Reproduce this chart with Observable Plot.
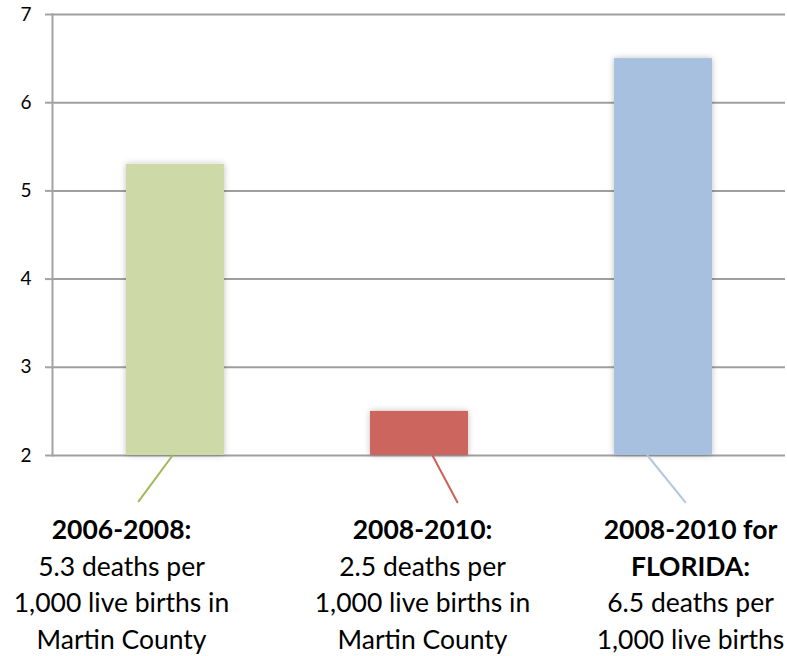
<!DOCTYPE html>
<html><head><meta charset="utf-8">
<script src="https://cdn.jsdelivr.net/npm/d3@7"></script>
<script src="https://cdn.jsdelivr.net/npm/@observablehq/plot@0.6"></script>
<style>body{margin:0;background:#fff}</style>
</head><body><div id="chart"></div>
<script>
const categories = ["2006-2008 Martin County", "2008-2010 Martin County", "2008-2010 Florida"];
const values = [5.3, 2.5, 6.5];
const barColors = ["#cddaa8", "#cd655e", "#a7c0df"];
const leaderColors = ["#9bbb59", "#cf5f59", "#b4c7dc"];
const headers = [["2006-2008:"], ["2008-2010:"], ["2008-2010 for", "FLORIDA:"]];
const bodies = [
  ["5.3 deaths per", "1,000 live births in", "Martin County"],
  ["2.5 deaths per", "1,000 live births in", "Martin County"],
  ["6.5 deaths per", "1,000 live births"]
];
const yTicks = [2, 3, 4, 5, 6, 7];

const data = categories.map((c, i) => ({cat: c, value: values[i], color: barColors[i]}));

// layout (pixels) for leader lines and labels
const leader = [
  {dx: -3, length: 57, rotate: 216.5},
  {dx: 13, length: 53, rotate: 152},
  {dx: -16, length: 60, rotate: 141}
];
const labelDx = [-54, 3, 27];
const fontSize = 26.5, lineGap = 36.5, headerDy = 58;
const font = "Lato, 'Open Sans', sans-serif";

const line = {draw(context, l) { context.moveTo(0, 0); context.lineTo(0, -l); }};

const marks = [
  Plot.gridY(yTicks, {stroke: "#9f9f9f", strokeOpacity: 1, strokeWidth: 2}),
  Plot.axisY(yTicks, {tickSize: 7, tickPadding: 14, stroke: "#a3a3a3", strokeWidth: 2, fill: "#000", fontSize: 19, tickFormat: d => String(d), label: null}),
  Plot.frame({anchor: "left", stroke: "#a3a3a3", strokeWidth: 2}),
  Plot.barY(data, {x: "cat", y1: 2, y2: "value", fill: "color"})
];

categories.forEach((c, i) => {
  marks.push(Plot.vector([data[i]], {
    x: "cat", y: () => 2, dx: leader[i].dx, length: leader[i].length, rotate: leader[i].rotate,
    anchor: "start", shape: line, stroke: leaderColors[i], strokeWidth: 2
  }));
  marks.push(Plot.text([headers[i].join("\n")], {
    x: () => c, y: () => 2, text: d => d, dx: labelDx[i], dy: headerDy,
    lineAnchor: "top", lineHeight: lineGap / fontSize, fontSize, fontWeight: "bold",
    fill: "#000", fontFamily: font
  }));
  marks.push(Plot.text([bodies[i].join("\n")], {
    x: () => c, y: () => 2, text: d => d, dx: labelDx[i], dy: headerDy + lineGap * headers[i].length,
    lineAnchor: "top", lineHeight: lineGap / fontSize, fontSize,
    fill: "#000", fontFamily: font
  }));
});

const plot = Plot.plot({
  width: 787,
  height: 656,
  marginLeft: 52,
  marginRight: 2,
  marginTop: 14,
  marginBottom: 201,
  style: {fontFamily: font, fontSize: "19px", background: "#fff", overflow: "visible"},
  x: {domain: categories, paddingInner: 0.6, paddingOuter: 0.3, axis: null},
  y: {domain: [2, 7], axis: null},
  color: {type: "identity"},
  marks
});

const svg = d3.select(plot);
// larger y tick labels
svg.selectAll('g[aria-label="y-axis tick label"]').attr("font-size", 19);
// soft shadow behind bars
const defs = svg.insert("defs", ":first-child");
const f = defs.append("filter").attr("id", "barShadow").attr("x", "-20%").attr("y", "-20%").attr("width", "140%").attr("height", "140%");
f.append("feDropShadow").attr("dx", 0).attr("dy", 0).attr("stdDeviation", 3).attr("flood-color", "#000").attr("flood-opacity", 0.25);
svg.selectAll('g[aria-label="bar"]').attr("filter", "url(#barShadow)");

document.getElementById("chart").append(plot);
</script>
</body></html>
